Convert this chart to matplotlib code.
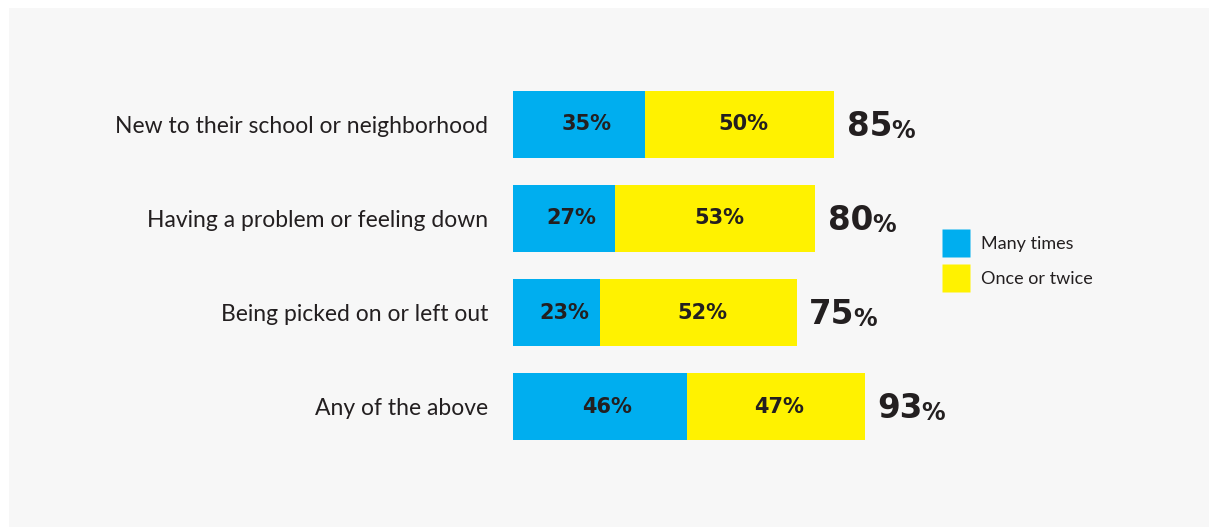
import matplotlib
matplotlib.use("Agg")
import matplotlib.pyplot as plt
from matplotlib.patches import Rectangle
from matplotlib.lines import Line2D

categories = ["New to their school or neighborhood",
              "Having a problem or feeling down",
              "Being picked on or left out",
              "Any of the above"]
many_times = [35, 27, 23, 46]
once_twice = [50, 53, 52, 47]
totals = [85, 80, 75, 93]
series_names = ["Many times", "Once or twice"]

BLUE = "#00AEEF"
YELLOW = "#FFF200"
TEXT = "#231F20"
BG = "#F7F7F7"

W, H = 1209, 527
fig = plt.figure(figsize=(W / 100, H / 100), dpi=100)
fig.patch.set_facecolor("white")
fig.patches.append(Rectangle((9 / W, 0), 1 - 9 / W, (H - 8) / H,
                             transform=fig.transFigure, facecolor=BG,
                             edgecolor="none", zorder=-10))

ax_left, ax_width = 513 / W, 378 / W
ax_top_px, ax_bot_px = 77, 454
ax = fig.add_axes([ax_left, 1 - ax_bot_px / H, ax_width, (ax_bot_px - ax_top_px) / H])
ax.set_zorder(2)
ax.set_facecolor("none")
ax.set_xlim(0, 100)
ax.set_ylim(3.5, -0.5)

ypos = list(range(len(categories)))
ax.barh(ypos, many_times, height=0.71, color=BLUE, label=series_names[0])
ax.barh(ypos, once_twice, left=many_times, height=0.71, color=YELLOW,
        label=series_names[1])

for y, m, o, t in zip(ypos, many_times, once_twice, totals):
    ax.text(m / 2 + 2.0, y, f"{m}%", ha="center", va="center", fontsize=15,
            fontweight="bold", color=TEXT)
    ax.text(m + o / 2 + 1.0, y, f"{o}%", ha="center", va="center", fontsize=15,
            fontweight="bold", color=TEXT)
    tt = ax.text(t + 3.3, y + 0.02, f"{t}", ha="left", va="center", fontsize=23.5,
                 fontweight="bold", color=TEXT, clip_on=False)
    ax.annotate("%", xy=(1, 0), xycoords=tt, xytext=(-1, 0),
                textcoords="offset points", ha="left", va="bottom",
                fontsize=17, fontweight="semibold", color=TEXT,
                annotation_clip=False)

ax.set_yticks(ypos)
ax.set_yticklabels(categories, fontsize=16.5, color=TEXT, fontfamily="Lato")
ax.tick_params(axis="y", length=0, pad=18)
ax.set_xticks([])
for s in ax.spines.values():
    s.set_visible(False)

handles = [Line2D([], [], linestyle="none", marker="s", markersize=20,
                  markerfacecolor=BLUE, markeredgecolor="none"),
           Line2D([], [], linestyle="none", marker="s", markersize=20,
                  markerfacecolor=YELLOW, markeredgecolor="none")]
leg = fig.legend(handles, series_names, loc="upper left",
                 bbox_to_anchor=(942 / W, 1 - 236 / H),
                 bbox_transform=fig.transFigure, frameon=False,
                 prop={"family": "Lato", "size": 13},
                 handlelength=1.56, handletextpad=0.6,
                 labelspacing=1.06, borderpad=0, borderaxespad=0)
for t in leg.get_texts():
    t.set_color(TEXT)

fig.savefig("out.png", dpi=100, facecolor=fig.get_facecolor())
